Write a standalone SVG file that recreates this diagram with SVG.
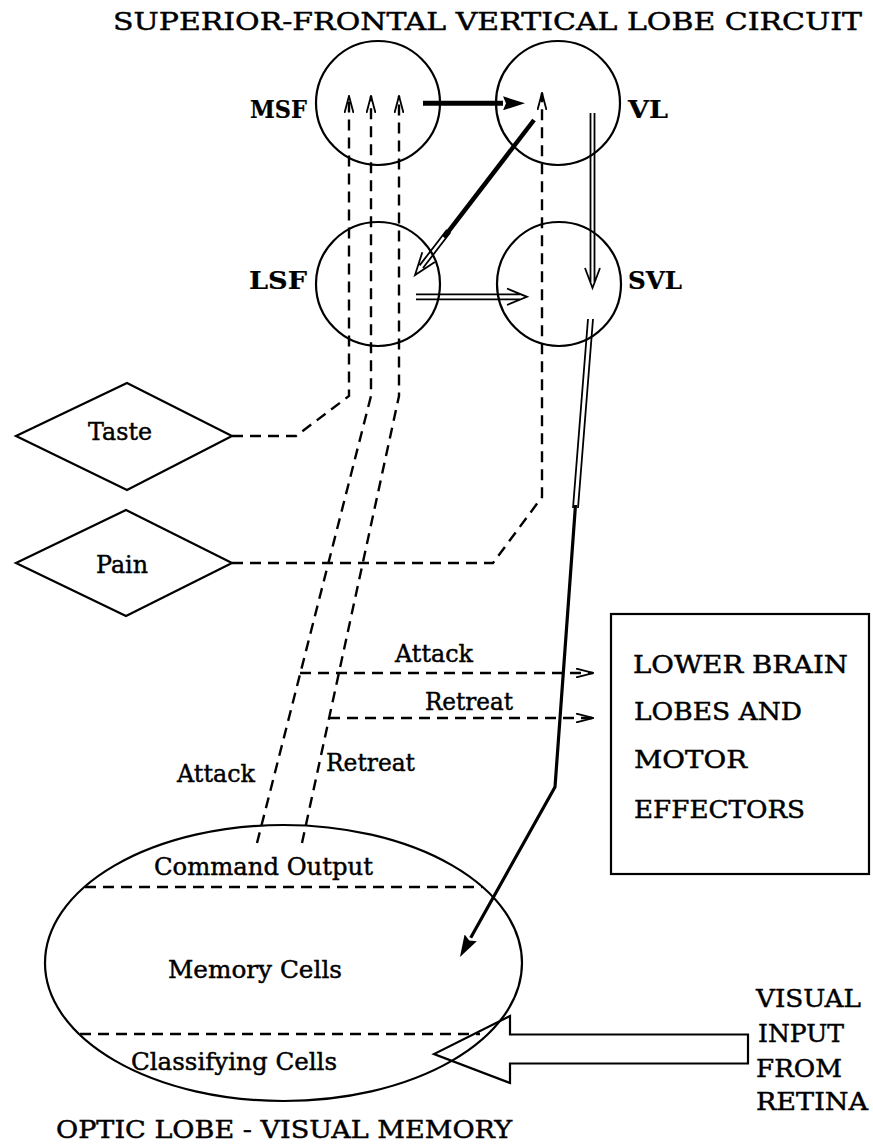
<svg xmlns="http://www.w3.org/2000/svg" width="873" height="1148" viewBox="0 0 873 1148">
<defs>
<style>
.n{fill:none;stroke:#000;stroke-width:2.2}
.d{fill:none;stroke:#000;stroke-width:2.4;stroke-dasharray:11 7}
.s{fill:none;stroke:#000;stroke-width:1.8}
.t{font-family:"DejaVu Serif","Liberation Serif",serif;font-size:24px;fill:#000;stroke:#000;stroke-width:0.45}
.b{font-weight:bold;stroke-width:0.2}
</style>
<marker id="open" markerUnits="userSpaceOnUse" viewBox="0 0 18 10" refX="17" refY="5" markerWidth="18" markerHeight="10" orient="auto"><path d="M0,0.5 L17,5 L0,9.5" fill="none" stroke="#000" stroke-width="1.8"/></marker>
<marker id="fill" markerUnits="userSpaceOnUse" viewBox="0 0 22 14" refX="0" refY="7" markerWidth="22" markerHeight="14" orient="auto"><path d="M0,0 L22,7 L0,14 L3,7 Z" fill="#000"/></marker>
</defs>
<rect width="873" height="1148" fill="#fff"/>
<text class="t" x="113" y="30" textLength="749" lengthAdjust="spacingAndGlyphs">SUPERIOR-FRONTAL VERTICAL LOBE CIRCUIT</text>

<g id="MSF"><circle class="n" cx="378" cy="103" r="62"/><text class="t b" x="250" y="118" textLength="57" lengthAdjust="spacingAndGlyphs">MSF</text></g>
<g id="VL"><circle class="n" cx="558" cy="103" r="62"/><text class="t b" x="628" y="118" textLength="40" lengthAdjust="spacingAndGlyphs">VL</text></g>
<g id="LSF"><circle class="n" cx="378" cy="284" r="62"/><text class="t b" x="249" y="289" textLength="58" lengthAdjust="spacingAndGlyphs">LSF</text></g>
<g id="SVL"><circle class="n" cx="559" cy="284" r="62"/><text class="t b" x="628" y="289" textLength="54" lengthAdjust="spacingAndGlyphs">SVL</text></g>
<g id="Taste"><polygon class="n" points="16,436 127,383 232,436 127,490"/><text class="t" x="88" y="440" textLength="64" lengthAdjust="spacingAndGlyphs">Taste</text></g>
<g id="Pain"><polygon class="n" points="16,563 126,510 232,563 126,616"/><text class="t" x="96" y="573" textLength="52" lengthAdjust="spacingAndGlyphs">Pain</text></g>
<g id="Motor"><rect class="n" x="611" y="614" width="258" height="260" stroke-width="2.5"/>
<text class="t" x="633" y="673" textLength="215" lengthAdjust="spacingAndGlyphs">LOWER BRAIN</text>
<text class="t" x="634" y="720" textLength="168" lengthAdjust="spacingAndGlyphs">LOBES AND</text>
<text class="t" x="634" y="768" textLength="113" lengthAdjust="spacingAndGlyphs">MOTOR</text>
<text class="t" x="634" y="818" textLength="171" lengthAdjust="spacingAndGlyphs">EFFECTORS</text></g>
<g id="OpticLobe"><ellipse class="n" cx="283.5" cy="963" rx="238.5" ry="138" stroke-width="2.4"/>
<path class="d" d="M85,887 L482,887"/>
<path class="d" d="M80,1034 L480,1034"/>
<text class="t" x="154" y="875" textLength="219" lengthAdjust="spacingAndGlyphs">Command Output</text>
<text class="t" x="168" y="978" textLength="174" lengthAdjust="spacingAndGlyphs">Memory Cells</text>
<text class="t" x="131" y="1070" textLength="206" lengthAdjust="spacingAndGlyphs">Classifying Cells</text>
<text class="t" x="56" y="1138" textLength="456" lengthAdjust="spacingAndGlyphs">OPTIC LOBE - VISUAL MEMORY</text></g>
<g id="Retina">
<text class="t" x="756" y="1007" textLength="105" lengthAdjust="spacingAndGlyphs">VISUAL</text>
<text class="t" x="758" y="1042" textLength="86" lengthAdjust="spacingAndGlyphs">INPUT</text>
<text class="t" x="756" y="1077" textLength="86" lengthAdjust="spacingAndGlyphs">FROM</text>
<text class="t" x="756" y="1110" textLength="112" lengthAdjust="spacingAndGlyphs">RETINA</text></g>

<g id="connectors">
<path class="d" d="M232,436 L296,436 L349,396 L349,96" marker-end="url(#open)"/>
<path class="d" d="M257,843 L371,396 L371,96" marker-end="url(#open)"/>
<path class="d" d="M302,843 L399,396 L399,96" marker-end="url(#open)"/>
<path class="d" d="M232,563 L493,563 L542,497 L542,93" marker-end="url(#open)"/>
<path class="d" d="M300,673 L593,673" marker-end="url(#open)" stroke-width="2.2"/>
<path class="d" d="M329,718 L593,718" marker-end="url(#open)" stroke-width="2.2"/>
<text class="t" x="395" y="662" textLength="78" lengthAdjust="spacingAndGlyphs">Attack</text>
<text class="t" x="425" y="710" textLength="88" lengthAdjust="spacingAndGlyphs">Retreat</text>
<text class="t" x="177" y="782" textLength="78" lengthAdjust="spacingAndGlyphs">Attack</text>
<text class="t" x="326" y="771" textLength="89" lengthAdjust="spacingAndGlyphs">Retreat</text>
<path d="M423,103.3 L503,103.3" stroke="#000" stroke-width="5" fill="none" marker-end="url(#fill)"/>
<path d="M534,120 L443.9,237.4" stroke="#000" stroke-width="4.5" fill="none"/>
<path class="s" d="M450.4,232.3 L423,268 M447,229.7 L419.6,265.4 M434.9,262.1 L415,275 L422.3,252.3"/>
<path class="s" d="M590.5,113 L590.5,282 M594.5,113 L594.5,282 M585,268 L592.5,288 L600,268"/>
<path class="s" d="M416,294.3 L520,294.3 M416,299.3 L520,299.3 M507,288.5 L527,296.8 L507,305"/>
<path class="s" d="M588,319 L573,508 M593,319 L578,508"/>
<path d="M575.5,505 L555,787 L470.7,937.8" stroke="#000" stroke-width="3.2" fill="none" stroke-linejoin="round" marker-end="url(#fill)"/>
<polygon class="n" points="748,1034.5 510,1034.5 510,1016 434,1054 510,1083 510,1063.5 748,1063.5"/>
</g>
</svg>
